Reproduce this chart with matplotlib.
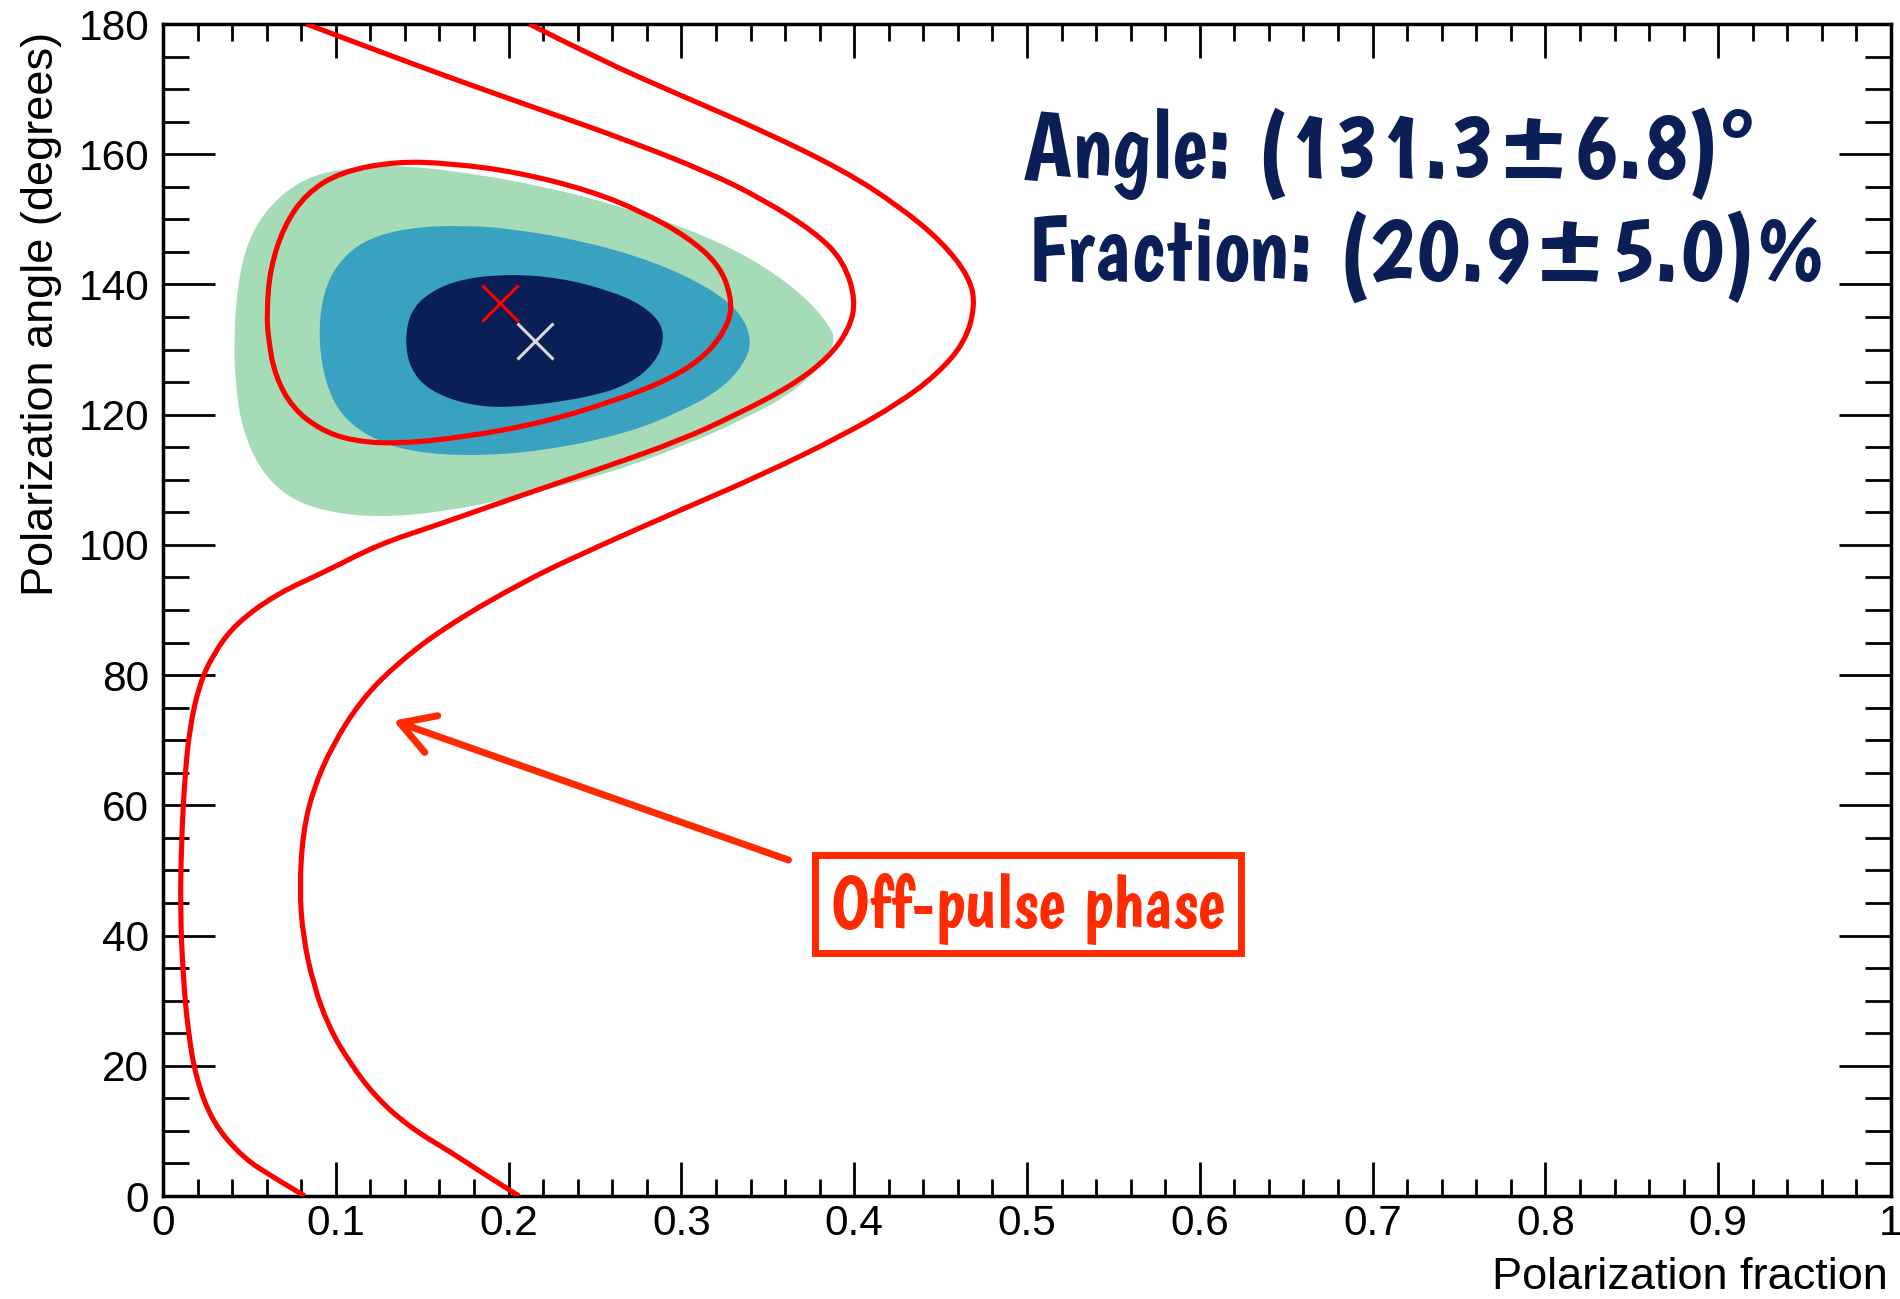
import matplotlib
matplotlib.use("Agg")
import matplotlib.pyplot as plt
from matplotlib.ticker import FixedLocator, MultipleLocator
from matplotlib.path import Path
from matplotlib.patches import PathPatch, Rectangle
from matplotlib import font_manager

plt.rcParams['font.family'] = ['Liberation Sans', 'DejaVu Sans']

# ---------------- data ----------------
green_frac = [0.041, 0.043, 0.049, 0.062, 0.081, 0.103, 0.132, 0.173, 0.220, 0.268,
              0.315, 0.347, 0.372, 0.386, 0.389, 0.383, 0.366, 0.341, 0.299, 0.252,
              0.204, 0.163, 0.125, 0.094, 0.072, 0.056, 0.046, 0.042]
green_angle = [131.4, 139.7, 146.8, 152.3, 156.2, 157.8, 158.4, 157.3, 155.1, 151.8,
               147.4, 143.0, 138.0, 133.6, 131.4, 128.1, 123.7, 119.9, 114.9, 110.5,
               107.3, 105.1, 104.2, 105.1, 107.3, 111.6, 117.7, 124.3]

blue_frac = [0.090, 0.092, 0.100, 0.116, 0.141, 0.173, 0.204, 0.246, 0.284, 0.315,
             0.334, 0.341, 0.336, 0.322, 0.299, 0.268, 0.220, 0.176, 0.141, 0.119,
             0.103, 0.094]
blue_angle = [131.4, 138.0, 143.0, 146.8, 148.7, 149.1, 148.5, 146.5, 143.5, 139.7,
              135.8, 131.4, 127.6, 123.7, 120.4, 117.1, 114.4, 113.6, 114.4, 116.6,
              119.9, 124.8]

navy_frac = [0.140, 0.143, 0.154, 0.173, 0.201, 0.230, 0.258, 0.277, 0.288, 0.290,
             0.285, 0.271, 0.246, 0.201, 0.176, 0.154, 0.143]
navy_angle = [131.4, 135.8, 138.8, 140.9, 141.6, 141.0, 139.1, 136.9, 134.2, 131.4,
              128.1, 124.8, 122.6, 121.0, 121.5, 123.7, 127.0]

red_loop_frac = [0.060, 0.062, 0.070, 0.083, 0.103, 0.135, 0.166, 0.204, 0.246, 0.277,
                 0.303, 0.322, 0.329, 0.328, 0.315, 0.293, 0.261, 0.220, 0.176, 0.135,
                 0.109, 0.091, 0.075, 0.065, 0.061]
red_loop_angle = [135.8, 142.4, 149.0, 154.0, 157.3, 158.9, 158.6, 157.3, 154.5, 151.2,
                  147.4, 143.0, 138.0, 134.2, 129.2, 125.4, 122.1, 118.8, 116.6, 115.5,
                  116.0, 117.7, 121.0, 125.9, 131.4]

red_s1_frac = [0.083, 0.125, 0.173, 0.220, 0.268, 0.315, 0.347, 0.378, 0.394, 0.401,
               0.397, 0.385, 0.363, 0.331, 0.299, 0.252, 0.204, 0.157, 0.125, 0.094,
               0.066, 0.042, 0.029, 0.021, 0.0154, 0.0125, 0.0106, 0.0100, 0.0116, 0.0145,
               0.0193, 0.0289, 0.0462, 0.0636, 0.082]
red_s1_angle = [180.0, 175.8, 171.1, 166.7, 162.2, 157.3, 153.1, 147.9, 143.5, 137.5,
                133.1, 128.7, 124.3, 119.9, 116.0, 111.6, 107.3, 102.9, 100.1, 95.9,
                92.5, 87.9, 83.2, 78.5, 71.9, 63.9, 53.9, 43.9, 33.9, 25.2,
                17.9, 11.2, 5.9, 2.9, 0.0]

red_s2_frac = [0.212, 0.252, 0.299, 0.347, 0.394, 0.426, 0.451, 0.467, 0.470, 0.464,
               0.448, 0.426, 0.394, 0.347, 0.299, 0.252, 0.210, 0.162, 0.133, 0.114,
               0.098, 0.087, 0.081, 0.079, 0.081, 0.087, 0.096, 0.108, 0.123, 0.143,
               0.168, 0.185, 0.206]
red_s2_angle = [180.0, 174.6, 169.1, 163.6, 157.5, 152.0, 146.5, 141.0, 136.6, 131.1,
                126.2, 121.8, 116.9, 110.8, 105.3, 99.8, 94.6, 87.2, 81.2, 75.9,
                69.2, 62.5, 55.9, 47.2, 39.9, 32.5, 25.9, 20.5, 15.2, 10.5,
                6.5, 3.5, 0.0]

onpulse_best = (0.215, 131.3)
offpulse_best = (0.195, 137.2)

x_ticks = [0, 0.1, 0.2, 0.3, 0.4, 0.5, 0.6, 0.7, 0.8, 0.9, 1.0]
x_ticklabels = ['0', '0.1', '0.2', '0.3', '0.4', '0.5', '0.6', '0.7', '0.8', '0.9', '1']
y_ticks = [0, 20, 40, 60, 80, 100, 120, 140, 160, 180]
y_ticklabels = [str(v) for v in y_ticks]

angle_text = "Angle: (131.3\u00b16.8)\u00b0"
fraction_text = "Fraction: (20.9\u00b15.0)%"
box_text = "Off-pulse phase"

# ---------------- styling / placement ----------------
C_GREEN = '#a6dbb8'
C_BLUE = '#3aa2c1'
C_NAVY = '#0b1f57'
C_RED = '#ff0000'
C_ORANGE = '#ff2a00'

avail = set(f.name for f in font_manager.fontManager.ttflist)
HAND_CHOICES = ['Boogaloo', 'Kalam', 'Gochi Hand', 'Patrick Hand', 'Caveat Brush',
                'Archivo Narrow', 'Barlow Condensed', 'DejaVu Sans']
HAND = [next(f for f in HAND_CHOICES if f in avail), 'DejaVu Sans']

arrow_tip = (0.1333, 73.0)
arrow_tail = (0.362, 51.6)


def smooth_path(xs, ys, closed):
    """Quadratic B-spline path whose control points are the read outline points."""
    pts = list(zip(xs, ys))
    n = len(pts)
    mid = lambda a, b: ((a[0] + b[0]) / 2, (a[1] + b[1]) / 2)
    if closed:
        verts = [mid(pts[-1], pts[0])]
        codes = [Path.MOVETO]
        for i in range(n):
            verts += [pts[i], mid(pts[i], pts[(i + 1) % n])]
            codes += [Path.CURVE3, Path.CURVE3]
    else:
        verts = [pts[0]]
        codes = [Path.MOVETO]
        for i in range(1, n - 1):
            end = mid(pts[i], pts[i + 1]) if i < n - 2 else pts[-1]
            verts += [pts[i], end]
            codes += [Path.CURVE3, Path.CURVE3]
    return Path(verts, codes)


fig = plt.figure(figsize=(19, 12.99), dpi=100)
ax = fig.add_axes([163 / 1900, 1 - 1196 / 1299, 1728 / 1900, 1172 / 1299])

for xs, ys, c, z in [(green_frac, green_angle, C_GREEN, 1),
                     (blue_frac, blue_angle, C_BLUE, 2),
                     (navy_frac, navy_angle, C_NAVY, 3)]:
    ax.add_patch(PathPatch(smooth_path(xs, ys, True), fc=c, ec='none', lw=0, zorder=z))

for xs, ys, closed in [(red_loop_frac, red_loop_angle, True),
                       (red_s1_frac, red_s1_angle, False),
                       (red_s2_frac, red_s2_angle, False)]:
    ax.add_patch(PathPatch(smooth_path(xs, ys, closed), fc='none', ec=C_RED, lw=3.7,
                           joinstyle='round', capstyle='butt', zorder=4))

ax.plot([offpulse_best[0]], [offpulse_best[1]], marker='x', ms=26, mew=2.2,
        color=C_RED, ls='none', zorder=5)
ax.plot([onpulse_best[0]], [onpulse_best[1]], marker='x', ms=26, mew=2.2,
        color='#d8d8d8', ls='none', zorder=5)

ax.set_xlim(0, 1)
ax.set_ylim(0, 180)

ax.xaxis.set_major_locator(FixedLocator(x_ticks))
ax.set_xticklabels(x_ticklabels)
ax.yaxis.set_major_locator(FixedLocator(y_ticks))
ax.set_yticklabels(y_ticklabels)
ax.xaxis.set_minor_locator(MultipleLocator(0.02))
ax.yaxis.set_minor_locator(MultipleLocator(5))

ax.tick_params(which='both', direction='in', top=True, right=True, width=2.0,
               color='black', labelsize=30.5)
ax.tick_params(axis='y', which='major', length=37.4, pad=10)
ax.tick_params(axis='y', which='minor', length=18.7)
ax.tick_params(axis='x', which='major', length=24.8, pad=6)
ax.tick_params(axis='x', which='minor', length=12.4)
for sp in ax.spines.values():
    sp.set_linewidth(2.5)

ax.set_xlabel('Polarization fraction', fontsize=32.5, loc='right')
ax.xaxis.label.set_va('baseline')
ax.xaxis.set_label_coords(0.998, -0.0794)
ax.set_ylabel('Polarization angle (degrees)', fontsize=32.5, loc='top')
ax.yaxis.set_label_coords(-0.0584, 0.9932)

t1 = ax.text(0.4983, 0.8695, angle_text, transform=ax.transAxes, fontsize=60,
             family=HAND, weight='bold', color=C_NAVY, ha='left', va='baseline', zorder=8)
t2 = ax.text(0.5000, 0.7816, fraction_text, transform=ax.transAxes, fontsize=60,
             family=HAND, weight='bold', color=C_NAVY, ha='left', va='baseline', zorder=8)

ax.annotate('', xy=arrow_tip, xytext=arrow_tail,
            arrowprops=dict(arrowstyle='->,head_length=1.2,head_width=0.7',
                            color=C_ORANGE, lw=5.0, mutation_scale=20,
                            shrinkA=0, shrinkB=0), zorder=6)
# label box (outer edge 812..1244 x 852..957 px in the reference)
ax.add_patch(Rectangle((0.3776, 37.25), 0.2460, 15.05, fc='white', ec=C_ORANGE,
                       lw=5, zorder=7, joinstyle='miter'))
t3 = ax.text(0.5006, 41.3, box_text, fontsize=40, family=HAND, weight='bold',
             color=C_ORANGE, ha='center', va='baseline', zorder=8)

# fit the hand-written annotation texts to the reference widths (pixels)
fig.canvas.draw()
rend = fig.canvas.get_renderer()
w1 = t1.get_window_extent(rend).width
w2 = t2.get_window_extent(rend).width
s = 0.5 * (712 / w1 + 813 / w2)
t1.set_fontsize(60 * s)
t2.set_fontsize(60 * s)
w3 = t3.get_window_extent(rend).width
t3.set_fontsize(40 * 393 / w3)

fig.savefig('out.png', dpi=100)
